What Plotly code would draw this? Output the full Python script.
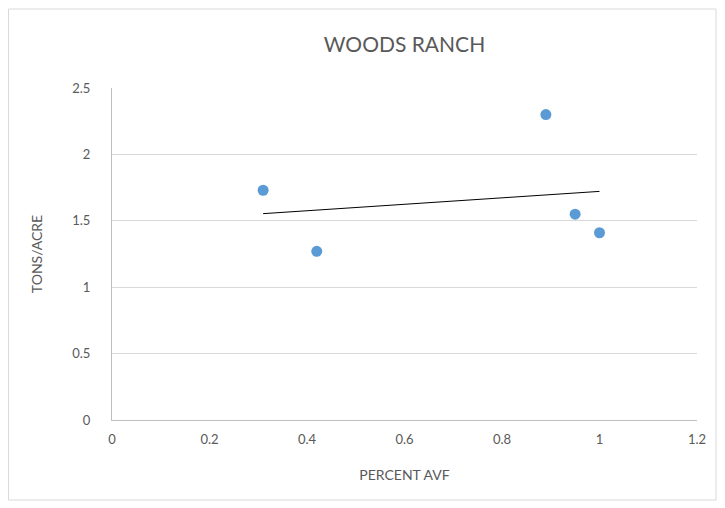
import numpy as np
import plotly.graph_objects as go

percent_avf = [0.31, 0.42, 0.89, 0.95, 1.00]
tons_acre = [1.73, 1.27, 2.30, 1.55, 1.41]
x_ticks = [0, 0.2, 0.4, 0.6, 0.8, 1, 1.2]
y_ticks = [0, 0.5, 1, 1.5, 2, 2.5]

slope, intercept = np.polyfit(percent_avf, tons_acre, 1)
tx = [min(percent_avf), max(percent_avf)]
ty = [slope * v + intercept for v in tx]

FONT = "Lato, 'Liberation Sans', sans-serif"
GREY = "#595959"

# page offset of 8px (body margin) accounted for in margins
L, R, T, B = 104, 36, 80, 96
PW = 725 - L - R
PH = 508 - T - B

fig = go.Figure()
fig.add_trace(go.Scatter(x=percent_avf, y=tons_acre, mode="markers",
                         marker=dict(color="#5b9bd5", size=11, line=dict(width=0)),
                         showlegend=False))
fig.add_trace(go.Scatter(x=tx, y=ty, mode="lines",
                         line=dict(color="#000000", width=1), showlegend=False))

fig.update_layout(
    width=725, height=508,
    margin=dict(l=L, r=R, t=T, b=B),
    paper_bgcolor="white", plot_bgcolor="white",
    title=dict(text="WOODS RANCH", x=(L + PW / 2) / 725, xanchor="center",
               y=1 - 37 / 508, yanchor="middle",
               font=dict(family=FONT, size=21, color=GREY)),
    font=dict(family=FONT, color=GREY),
    xaxis=dict(range=[0, 1.2], tickvals=x_ticks, ticktext=[f"{v:g}" for v in x_ticks],
               showgrid=False, zeroline=False, showline=True, linecolor="#bfbfbf", linewidth=1,
               ticks="", tickfont=dict(size=13, color=GREY), ticklabelstandoff=7,
               title=dict(text="PERCENT AVF", font=dict(size=14, color=GREY), standoff=24)),
    yaxis=dict(range=[0, 2.5], tickvals=y_ticks, ticktext=[f"{v:g}" for v in y_ticks],
               showgrid=True, gridcolor="#d9d9d9", gridwidth=1, zeroline=False,
               showline=True, linecolor="#bfbfbf", linewidth=1,
               ticks="", tickfont=dict(size=13, color=GREY), ticklabelstandoff=18,
               title=dict(text="TONS/ACRE", font=dict(size=14, color=GREY), standoff=26)),
    shapes=[dict(type="rect", xref="paper", yref="paper",
                 x0=(0.5 - L) / PW, x1=(708 - L) / PW,
                 y0=(PH - (492 - T)) / PH, y1=(PH - (1 - T)) / PH,
                 line=dict(color="#d9d9d9", width=1), fillcolor="rgba(0,0,0,0)", layer="below")],
)

fig.write_html("out.html")
